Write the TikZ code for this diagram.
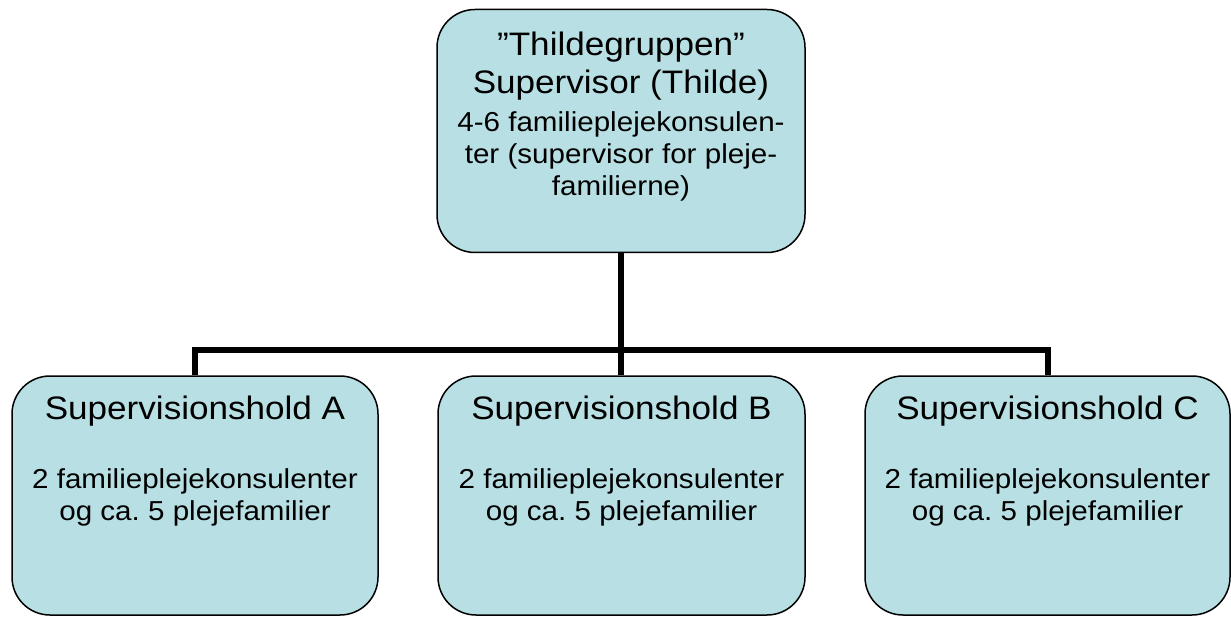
\documentclass[tikz,border=0pt]{standalone}
\usepackage{fontspec}
\setmainfont{Liberation Sans}[FakeStretch=1.08]
\definecolor{boxfill}{RGB}{184,224,228}
\frenchspacing
\begin{document}
\begin{tikzpicture}[x=1pt,y=-1pt,
  box/.style={draw=black,line width=1.5pt,fill=boxfill,rounded corners=38pt,inner sep=0pt},
  head/.style={anchor=base,inner sep=0pt,font=\fontsize{32.5}{38}\selectfont},
  small/.style={anchor=base,inner sep=0pt,font=\fontsize{27.4}{32}\selectfont},
  link/.style={line width=6pt,line join=miter}]
\useasboundingbox (0,0) rectangle (1231,617);
\node[box,minimum width=368pt,minimum height=243pt] (top) at (621,131) {};
\node[box,minimum width=366pt,minimum height=239pt] (A) at (195,495.5) {};
\node[box,minimum width=367pt,minimum height=239pt] (B) at (621.5,495.5) {};
\node[box,minimum width=365pt,minimum height=239pt] (C) at (1047.5,495.5) {};
\coordinate (j) at (621,350);
\draw[link] (top.south) -- (j);
\draw[link] (A.north) |- (j) -| (C.north);
\draw[link] (j) -- (j |- B.north);
\node[head] (t1) at (621,56) {”Thildegruppen”};
\node[head] (t2) at (621,94) {Supervisor (Thilde)};
\node[small] (t3) at (621,132) {4-6 familieplejekonsulen-};
\node[small] (t4) at (621,164) {ter (supervisor for pleje-};
\node[small] (t5) at (621,196) {familierne)};
\foreach \n/\x in {A/195,B/621.5,C/1047.5}{
  \node[head] (h\n) at (\x,419) {Supervisionshold \n};
  \node[small] (s\n) at (\x,488) {2 familieplejekonsulenter};
  \node[small] (o\n) at (\x,520) {og ca. 5 plejefamilier};
}
\end{tikzpicture}
\end{document}
